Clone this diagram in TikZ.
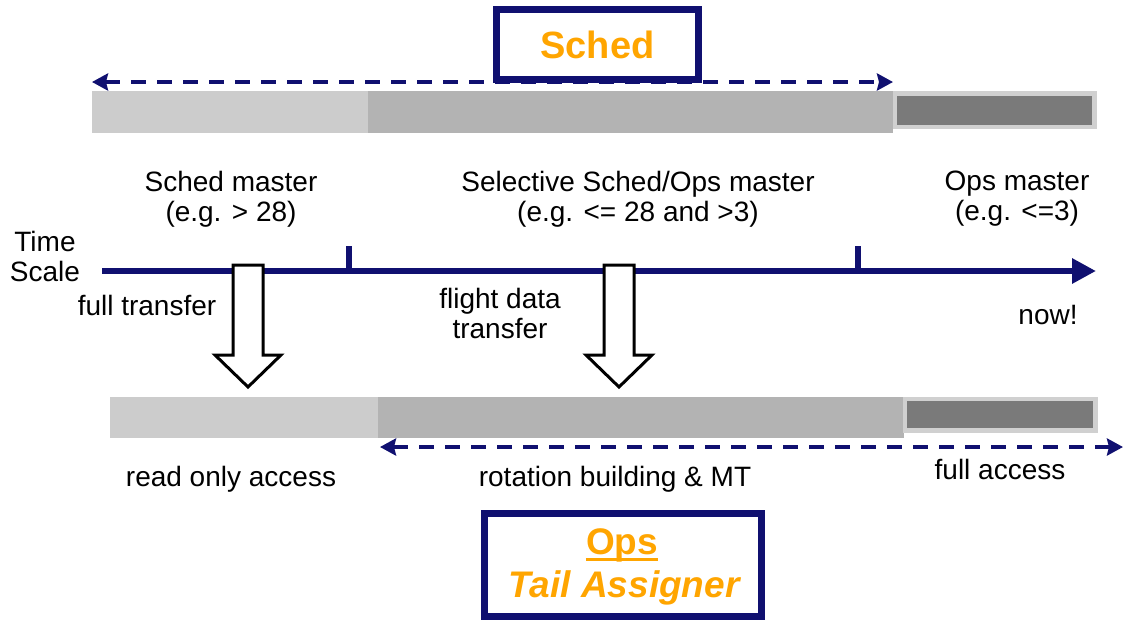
\documentclass[tikz,border=0pt]{standalone}
\usepackage{fontspec}
\setmainfont{Liberation Sans}
\usetikzlibrary{arrows.meta}
\definecolor{navy}{RGB}{16,16,112}
\definecolor{orng}{RGB}{255,165,0}
\definecolor{gLight}{RGB}{204,204,204}
\definecolor{gMid}{RGB}{179,179,179}
\definecolor{gBorder}{RGB}{208,208,208}
\definecolor{gDark}{RGB}{122,122,122}
\begin{document}
\begin{tikzpicture}[x=1pt,y=-1pt,
  lbl/.style={font=\fontsize{28}{30}\selectfont, align=center, inner sep=0pt, text=black},
  titlebox/.style={draw=navy, line width=7pt, fill=white, inner sep=0pt},
  dasharrow/.style={navy, line width=4pt, dash pattern=on 15pt off 11pt,
    {Stealth[length=16pt,width=17pt,inset=2pt]}-{Stealth[length=16pt,width=17pt,inset=2pt]}},
  hollow/.style={draw=black, line width=3pt, fill=white, line join=miter},
  tickmark/.style={navy, line width=6pt}]
\path[use as bounding box, fill=white] (0,0) rectangle (1124,619);

% ---- top bar ----
\fill[gLight] (92,91) rectangle (368,133);
\fill[gMid] (368,91) rectangle (893,133);
\fill[gBorder] (893,91) rectangle (1097,129);
\fill[gDark] (897,96) rectangle (1092,125);

% ---- Sched box ----
\node[titlebox, minimum width=202pt, minimum height=70pt] (sched) at (597.5,44.5)
  {\fontsize{38}{40}\selectfont\bfseries\color{orng}Sched};
\coordinate (tl) at (92,82);
\coordinate (tr) at (893,82);
\draw[dasharrow] (tl) -- (tr);

% ---- period labels ----
\node[lbl] (schedm) at (231,199) {Sched master\\(e.g. > 28)};
\node[lbl] (selm) at (638,199) {Selective Sched/Ops master\\(e.g. <= 28 and >3)};
\node[lbl] (opsm) at (1017,199) {Ops master\\(e.g. <=3)};

% ---- time axis ----
\node[lbl] (ts) at (45,256) {Time\\Scale};
\coordinate (ax0) at (102,271);
\coordinate (ax1) at (1096,271);
\draw[navy, line width=6pt, -{Triangle[length=24pt,width=24pt]}] (ax0) -- (ax1);
\coordinate (t1a) at (349,246); \coordinate (t1b) at (349,271);
\coordinate (t2a) at (858,246); \coordinate (t2b) at (858,271);
\draw[tickmark] (t1a) -- (t1b);
\draw[tickmark] (t2a) -- (t2b);

% ---- hollow transfer arrows ----
\draw[hollow] (233,265) -- (263,265) -- (263,355) -- (281,355) -- (248,387)
  -- (215,355) -- (233,355) -- cycle;
\draw[hollow] (604,265) -- (634,265) -- (634,355) -- (652,355) -- (619,387)
  -- (586,355) -- (604,355) -- cycle;
\node[lbl] (ft) at (147,305) {full transfer};
\node[lbl] (fdt) at (500,313) {flight data\\transfer};
\node[lbl] (now) at (1048,315) {now!};

% ---- bottom bar ----
\fill[gLight] (110,397) rectangle (378,438);
\fill[gMid] (378,397) rectangle (904,438);
\fill[gBorder] (903,397) rectangle (1098,433);
\fill[gDark] (907,401) rectangle (1093,428);
\coordinate (bl) at (380,447);
\coordinate (br) at (1123,447);
\draw[dasharrow] (bl) -- (br);

\node[lbl] (roa) at (231,479) {read only access};
\node[lbl] (rb) at (615,479) {rotation building \& MT};
\node[lbl] (fa) at (1000,469) {full access};

% ---- Ops box ----
\node[titlebox, minimum width=277pt, minimum height=103pt] (ops) at (622.5,564.5) {};
\node[inner sep=0pt, text=orng, font=\fontsize{37}{40}\selectfont\bfseries] (opst) at (622,545) {Ops};
\draw[orng, line width=3pt] ([yshift=-5pt]opst.base west) -- ([yshift=-5pt]opst.base east);
\node[inner sep=0pt, text=orng, font=\fontsize{37}{40}\selectfont\bfseries\itshape] (tat) at (624,588) {Tail Assigner};
\end{tikzpicture}
\end{document}
